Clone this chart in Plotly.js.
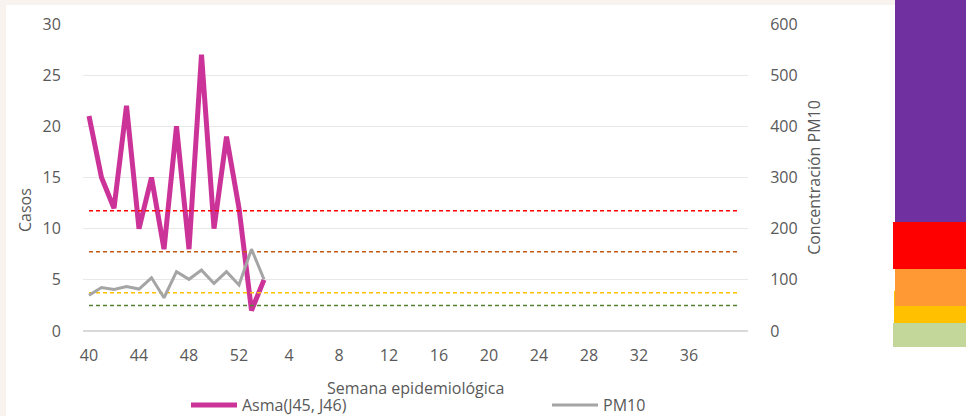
<!DOCTYPE html>
<html>
<head>
<meta charset="utf-8">
<script src="https://cdn.plot.ly/plotly-3.0.1.min.js"></script>
<style>html,body{margin:0;padding:0;background:#fff}#chart{width:966px;height:416px}</style>
</head>
<body>
<div id="chart"></div>
<script>
// Epidemiological weeks (category labels) 40..52, then 1..40
const weeks = [40,41,42,43,44,45,46,47,48,49,50,51,52,1,2,3,4,5,6,7,8,9,10,11,12,13,14,15,16,17,18,19,20,21,22,23,24,25,26,27,28,29,30,31,32,33,34,35,36,37,38,39,40];
// Asthma cases (left axis)
const asma = [21,15,12,22,10,15,8,20,8,27,10,19,12,2,5];
// PM10 concentration (right axis)
const pm10 = [70,85,81,87,82,104,65,116,101,119,93,116,90,160,101];
// Reference levels for PM10 (right axis)
const limRojo = 235;
const limNaranja = 155;
const limAmarillo = 75;
const limVerde = 50;
// Tick labels shown every 4 weeks
const tickLabels = ["40","44","48","52","4","8","12","16","20","24","28","32","36"];

const idx = weeks.map((w,i)=>i);
const tickIdx = tickLabels.map((t,k)=>k*4);
const FONT = "Open Sans, Liberation Sans, sans-serif";
const GREY = "#595959";
const FS = 16;

function refLine(v, color){
  return {x: idx, y: weeks.map(()=>v), yaxis:'y2', type:'scatter', mode:'lines',
    line:{color:color, width:1.5, dash:'4px,3px'}, showlegend:false, hoverinfo:'skip'};
}

const traces = [
  refLine(limRojo, '#FF0000'),
  refLine(limNaranja, '#C65911'),
  refLine(limAmarillo, '#FFC000'),
  refLine(limVerde, '#548235'),
  {x: idx.slice(0, pm10.length), y: pm10, yaxis:'y2', type:'scatter', mode:'lines', name:'PM10',
   line:{color:'#A5A5A5', width:3}, legend:'legend2'},
  {x: idx.slice(0, asma.length), y: asma, type:'scatter', mode:'lines', name:'Asma(J45, J46)',
   line:{color:'#CC3399', width:5}, legend:'legend'}
];

const W = 665, H = 307, L = 83, T = 24;
const px = v => (v - L)/W;
const py = v => (T + H - v)/H;
function rect(x0,y0,x1,y1,color,layer){
  return {type:'rect', xref:'paper', yref:'paper', x0:px(x0), x1:px(x1), y0:py(y1), y1:py(y0),
    fillcolor:color, line:{width:0}, layer: layer||'above'};
}
const legBase = {orientation:'h', xref:'container', yref:'container', xanchor:'left', y: 1 - 388/416, yanchor:'top',
    font:{family:FONT, size:FS, color:GREY}, bgcolor:'rgba(0,0,0,0)', itemwidth:46};

const layout = {
  width: 966, height: 416,
  margin: {l: L, r: 966 - L - W, t: T, b: 416 - T - H, autoexpand:false},
  paper_bgcolor: '#f9f3f0',
  plot_bgcolor: 'rgba(0,0,0,0)',
  font: {family: FONT, color: GREY, size: FS},
  showlegend: true,
  legend: Object.assign({}, legBase, {x: 186/966}),
  legend2: Object.assign({}, legBase, {x: 547/966}),
  xaxis: {
    range: [-0.48, 52.72], tickmode:'array', tickvals: tickIdx, ticktext: tickLabels,
    showgrid:false, zeroline:false, showline:false,
    ticks:'outside', ticklen: 10, tickcolor:'rgba(0,0,0,0)',
    tickfont:{size:FS, color:GREY, family:FONT}
  },
  yaxis: {
    range:[0,30], tickvals:[0,5,10,15,20,25,30], showgrid:true, gridcolor:'#E8E8E8', gridwidth:1.3,
    zeroline:true, zerolinecolor:'#D9D9D9', zerolinewidth:2, showline:false,
    ticks:'outside', ticklen: 18, tickcolor:'rgba(0,0,0,0)',
    tickfont:{size:FS, color:GREY, family:FONT}
  },
  yaxis2: {
    range:[0,600], tickvals:[0,100,200,300,400,500,600], overlaying:'y', side:'right',
    showgrid:false, zeroline:false, showline:false,
    ticks:'outside', ticklen: 18, tickcolor:'rgba(0,0,0,0)',
    tickfont:{size:FS, color:GREY, family:FONT},
    title:{text:'Concentración PM10', font:{size:FS, color:GREY, family:FONT}, standoff: 12}
  },
  annotations: [
    {text:'Casos', xref:'paper', yref:'paper', x: px(25), y: py(210), textangle:-90,
     showarrow:false, font:{size:FS, color:GREY, family:FONT}, xanchor:'center', yanchor:'middle'},
    {text:'Semana epidemiológica', xref:'paper', yref:'paper', x: 0.5, y: py(388),
     showarrow:false, font:{size:FS, color:GREY, family:FONT}, xanchor:'center', yanchor:'middle'}
  ],
  shapes: [
    {type:'rect', xref:'paper', yref:'paper', x0:px(6), x1:px(966), y0:py(416), y1:py(5),
     fillcolor:'#ffffff', line:{width:0}, layer:'below'},
    rect(895, 0, 966, 222, '#7030A0'),
    rect(893, 222, 966, 269, '#FF0000'),
    rect(894, 291, 966, 323, '#FFC000'),
    rect(895, 269, 966, 306, '#FF9933'),
    rect(893, 323, 966, 347, '#C4D79B')
  ]
};

Plotly.newPlot('chart', traces, layout, {displayModeBar:false, staticPlot:true});
</script>
</body>
</html>
